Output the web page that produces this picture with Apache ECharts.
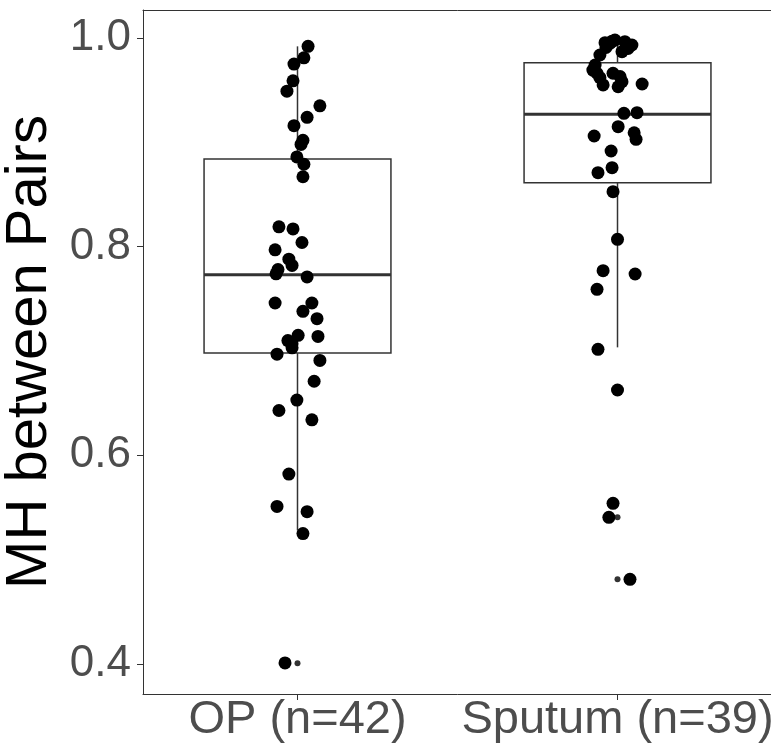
<!DOCTYPE html>
<html>
<head>
<meta charset="utf-8">
<script src="https://cdn.jsdelivr.net/npm/echarts@6/dist/echarts.min.js"></script>
<style>
  html, body { margin: 0; padding: 0; background: #fff; }
  #chart { width: 771px; height: 747px; }
</style>
</head>
<body>
<div id="chart"></div>
<script>
var categories = ['OP (n=42)', 'Sputum (n=39)'];

// box stats: [lower whisker, Q1, median, Q3, upper whisker]
var opBox = [0.528, 0.698, 0.773, 0.884, 0.992];
var sputumBox = [0.7035, 0.8613, 0.9269, 0.9763, 0.998];
var opOutliers = [0.4007];
var sputumOutliers = [0.5406, 0.4812];

// jittered points (value, horizontal offset from the category centre)
var opValues = [0.992, 0.981, 0.975, 0.959, 0.949, 0.935, 0.924, 0.916, 0.902, 0.898,
  0.886, 0.879, 0.867, 0.819, 0.817, 0.804, 0.797, 0.788, 0.782, 0.778,
  0.774, 0.771, 0.746, 0.746, 0.738, 0.731, 0.714, 0.715, 0.707, 0.703,
  0.697, 0.691, 0.671, 0.653, 0.643, 0.634, 0.582, 0.551, 0.546, 0.525,
  0.401, 0.710];
var opJitter = [0.033, 0.020, -0.011, -0.014, -0.033, 0.070, 0.030, -0.011, 0.017, 0.011,
  -0.002, 0.020, 0.017, -0.058, -0.014, 0.014, -0.070, -0.027, -0.017, -0.061,
  -0.067, 0.030, -0.070, 0.045, 0.017, 0.061, 0.064, 0.002, -0.017, -0.017,
  -0.064, 0.070, 0.052, -0.002, -0.058, 0.045, -0.027, -0.064, 0.030, 0.017,
  -0.039, -0.030];

var sputumValues = [0.9955, 0.998, 0.9965, 0.9933, 0.9869, 0.995, 0.9837, 0.9741, 0.9662, 0.9693,
  0.9662, 0.9581, 0.955, 0.9559, 0.9533, 0.9278, 0.9284, 0.915, 0.9061, 0.9092,
  0.9029, 0.8917, 0.8757, 0.8709, 0.8527, 0.807, 0.777, 0.7738, 0.7591, 0.7016,
  0.6626, 0.554, 0.5406, 0.4812, 0.997, 0.990, 0.962, 0.963, 0.991];
var sputumJitter = [-0.039, -0.008, 0.023, 0.045, 0.014, -0.023, -0.055, -0.070, -0.064, -0.077,
  -0.014, 0.014, -0.045, 0.077, 0.002, 0.020, 0.061, 0.002, -0.073, 0.052,
  0.058, -0.020, -0.017, -0.061, -0.014, 0.000, -0.045, 0.055, -0.064, -0.061,
  0.000, -0.014, -0.027, 0.039, -0.017, 0.033, -0.055, 0.008, -0.036];

var yTicks = [0.4, 0.6, 0.8, 1.0];

var chartDom = document.getElementById('chart');
var myChart = echarts.init(chartDom);

var boxData = [[1].concat(opBox), [2].concat(sputumBox)];

var pointData = [];
for (let i = 0; i < opValues.length; i++) {
  pointData.push([1 + opJitter[i], opValues[i]]);
}
for (let i = 0; i < sputumValues.length; i++) {
  pointData.push([2 + sputumJitter[i], sputumValues[i]]);
}
var outlierData = opOutliers.map(function (v) { return [1, v]; })
  .concat(sputumOutliers.map(function (v) { return [2, v]; }));

var boxHalf = 0.292;
var lineCol = '#333333';
var textCol = '#4d4d4d';
var font = 'Liberation Sans';
var xMin = 0.5172, xMax = 2.4859;

function renderBox(params, api) {
  var x = api.value(0);
  var lo = api.value(1), q1 = api.value(2), med = api.value(3), q3 = api.value(4), hi = api.value(5);
  var pLo = api.coord([x, lo]), pQ1 = api.coord([x, q1]);
  var pQ3 = api.coord([x, q3]), pHi = api.coord([x, hi]);
  var left = api.coord([x - boxHalf, q3]);
  var right = api.coord([x + boxHalf, q1]);
  var m1 = api.coord([x - boxHalf, med]), m2 = api.coord([x + boxHalf, med]);
  var st = { stroke: lineCol, lineWidth: 1.5, fill: null };
  return {
    type: 'group',
    children: [
      { type: 'line', shape: { x1: pLo[0], y1: pLo[1], x2: pQ1[0], y2: pQ1[1] }, style: st },
      { type: 'line', shape: { x1: pQ3[0], y1: pQ3[1], x2: pHi[0], y2: pHi[1] }, style: st },
      { type: 'rect', shape: { x: left[0], y: left[1], width: right[0] - left[0], height: right[1] - left[1] },
        style: { stroke: lineCol, lineWidth: 1.5, fill: '#fff' } },
      { type: 'line', shape: { x1: m1[0], y1: m1[1], x2: m2[0], y2: m2[1] },
        style: { stroke: lineCol, lineWidth: 3 } }
    ]
  };
}

var option = {
  animation: false,
  backgroundColor: '#fff',
  grid: { left: 143, right: -2, top: 10, bottom: 53, outerBoundsMode: 'none', containLabel: false },
  xAxis: [
    {
      type: 'value',
      min: xMin, max: xMax,
      splitLine: { show: false },
      axisLine: { show: true, onZero: false, lineStyle: { color: lineCol, width: 1 } },
      axisTick: { show: true, customValues: [1, 2], length: 6, lineStyle: { color: lineCol } },
      axisLabel: {
        customValues: [1, 2],
        formatter: function (v) { return categories[Math.round(v) - 1]; },
        color: textCol, fontSize: 47, fontFamily: font, margin: 3
      }
    },
    {
      // top frame line only
      type: 'value', position: 'top',
      min: xMin, max: xMax,
      splitLine: { show: false },
      axisLine: { show: true, onZero: false, lineStyle: { color: lineCol, width: 1 } },
      axisTick: { show: false },
      axisLabel: { show: false }
    }
  ],
  yAxis: {
    type: 'value',
    min: 0.37125, max: 1.02684,
    name: 'MH between Pairs',
    nameLocation: 'middle',
    nameGap: 70,
    nameTextStyle: { color: '#000', fontSize: 58, fontFamily: font },
    splitLine: { show: false },
    axisLine: { show: true, onZero: false, lineStyle: { color: lineCol, width: 1 } },
    axisTick: { show: true, customValues: yTicks, length: 6, lineStyle: { color: lineCol } },
    axisLabel: {
      customValues: yTicks,
      formatter: function (v) { return v.toFixed(1); },
      color: textCol, fontSize: 44, fontFamily: font, margin: 12
    }
  },
  series: [
    {
      type: 'custom',
      renderItem: renderBox,
      encode: { x: 0, y: [1, 2, 3, 4, 5] },
      data: boxData,
      z: 1
    },
    {
      type: 'scatter',
      data: outlierData,
      symbolSize: 6,
      itemStyle: { color: lineCol, opacity: 1 },
      z: 2
    },
    {
      type: 'scatter',
      data: pointData,
      symbolSize: 13,
      itemStyle: { color: '#000', opacity: 1 },
      z: 3
    }
  ]
};

option && myChart.setOption(option);
</script>
</body>
</html>
